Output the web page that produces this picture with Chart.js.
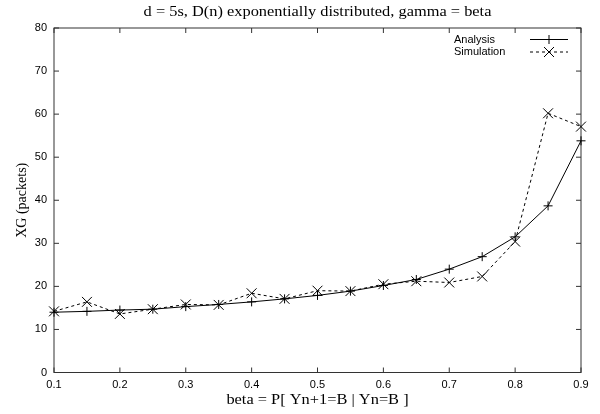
<!DOCTYPE html>
<html>
<head>
<meta charset="utf-8">
<script src="https://cdn.jsdelivr.net/npm/chart.js@4.4.0/dist/chart.umd.min.js"></script>
<style>
  html, body { margin: 0; padding: 0; background: #fff; }
  #wrap { width: 600px; height: 414px; }
</style>
</head>
<body>
<div id="wrap"><canvas id="xgChart" width="600" height="414"></canvas></div>
<script>
// beta = P[Yn+1=B | Yn=B] sample points
const betaValues   = [0.1, 0.15, 0.2, 0.25, 0.3, 0.35, 0.4, 0.45, 0.5, 0.55, 0.6, 0.65, 0.7, 0.75, 0.8, 0.85, 0.9];
const analysisXG   = [14.0, 14.2, 14.5, 14.7, 15.3, 15.8, 16.4, 17.1, 17.9, 18.9, 20.2, 21.6, 24.0, 26.9, 31.5, 38.7, 53.8];
const simulationXG = [14.2, 16.4, 13.6, 14.7, 15.8, 15.7, 18.4, 17.1, 19.0, 18.9, 20.5, 21.2, 20.9, 22.3, 30.4, 60.2, 57.1];
const xTickValues  = [0.1, 0.2, 0.3, 0.4, 0.5, 0.6, 0.7, 0.8, 0.9];
const yTickValues  = [0, 10, 20, 30, 40, 50, 60, 70, 80];
const seriesNames  = ['Analysis', 'Simulation'];
const plotTitle    = 'd = 5s, D(n) exponentially distributed, gamma = beta';
const xAxisLabel   = 'beta = P[ Yn+1=B | Yn=B ]';
const yAxisLabel   = 'XG (packets)';

const SANS = "'Liberation Sans', Arial, sans-serif";
const SERIF = "'Liberation Serif', 'Times New Roman', serif";
const INK = '#000';
const FRAME = '#333';
const WIDEN = 1.17; // serif captions are set a little wide

const toPoints = ys => betaValues.map((b, i) => ({ x: b, y: ys[i] }));

function wideText(ctx, text, cx, cy) {
  ctx.save();
  ctx.translate(cx, cy);
  ctx.scale(WIDEN, 1);
  ctx.fillText(text, 0, 0);
  ctx.restore();
}

// gnuplot-style box with inward ticks on all four sides, plus centred captions
const framePlugin = {
  id: 'frame',
  beforeDatasetsDraw(chart) {
    const { ctx, chartArea: a, scales: { x, y } } = chart;
    const tl = 5;
    ctx.save();
    ctx.strokeStyle = FRAME;
    ctx.lineWidth = 1;
    ctx.strokeRect(a.left, a.top, a.right - a.left, a.bottom - a.top);
    ctx.beginPath();
    xTickValues.forEach(v => {
      const px = x.getPixelForValue(v);
      ctx.moveTo(px, a.bottom); ctx.lineTo(px, a.bottom - tl);
      ctx.moveTo(px, a.top);    ctx.lineTo(px, a.top + tl);
    });
    yTickValues.forEach(v => {
      const py = y.getPixelForValue(v);
      ctx.moveTo(a.left, py);  ctx.lineTo(a.left + tl, py);
      ctx.moveTo(a.right, py); ctx.lineTo(a.right - tl, py);
    });
    ctx.stroke();

    const mid = (a.left + a.right) / 2;
    ctx.fillStyle = INK;
    ctx.font = '14px ' + SERIF;
    ctx.textAlign = 'center';
    ctx.textBaseline = 'middle';
    wideText(ctx, plotTitle, mid, 12);
    wideText(ctx, xAxisLabel, mid, 400);
    ctx.restore();
  }
};

// key in the top-right corner: label, then line sample with marker
const keyPlugin = {
  id: 'key',
  afterDraw(chart) {
    const { ctx } = chart;
    const rows = [
      { y: 39.5, dash: [], marker: 'plus' },
      { y: 52, dash: [3, 3], marker: 'x' }
    ];
    ctx.save();
    ctx.font = '11px ' + SANS;
    ctx.fillStyle = INK;
    ctx.strokeStyle = INK;
    ctx.lineWidth = 1;
    ctx.textAlign = 'left';
    ctx.textBaseline = 'middle';
    rows.forEach((r, i) => {
      ctx.fillText(seriesNames[i], 454, r.y);
      ctx.setLineDash(r.dash);
      ctx.beginPath();
      ctx.moveTo(530, r.y); ctx.lineTo(568, r.y);
      ctx.stroke();
      ctx.setLineDash([]);
      ctx.beginPath();
      if (r.marker === 'plus') {
        ctx.moveTo(549 - 4.5, r.y); ctx.lineTo(549 + 4.5, r.y);
        ctx.moveTo(549, r.y - 4.5); ctx.lineTo(549, r.y + 4.5);
      } else {
        ctx.moveTo(544, r.y - 5); ctx.lineTo(554, r.y + 5);
        ctx.moveTo(544, r.y + 5); ctx.lineTo(554, r.y - 5);
      }
      ctx.stroke();
    });
    ctx.restore();
  }
};

new Chart(document.getElementById('xgChart'), {
  type: 'line',
  data: {
    datasets: [
      {
        label: seriesNames[0],
        data: toPoints(analysisXG),
        borderColor: INK,
        borderWidth: 1,
        pointStyle: 'cross',
        pointRadius: 4.5,
        pointBorderColor: INK,
        pointBorderWidth: 1,
        tension: 0,
        fill: false,
        clip: false
      },
      {
        label: seriesNames[1],
        data: toPoints(simulationXG),
        borderColor: INK,
        borderWidth: 1,
        borderDash: [3, 3],
        pointStyle: 'crossRot',
        pointRadius: 7,
        pointBorderColor: INK,
        pointBorderWidth: 1,
        tension: 0,
        fill: false,
        clip: false
      }
    ]
  },
  options: {
    responsive: false,
    animation: false,
    events: [],
    layout: { padding: { left: 0, right: 19, top: 28, bottom: 0 } },
    plugins: {
      legend: { display: false },
      tooltip: { enabled: false },
      title: { display: false }
    },
    scales: {
      x: {
        type: 'linear',
        min: 0.1,
        max: 0.9,
        afterBuildTicks: s => { s.ticks = xTickValues.map(v => ({ value: v })); },
        afterFit: s => { s.height = 41.5; },
        grid: { display: false, drawTicks: false },
        border: { display: false },
        ticks: {
          color: INK,
          font: { family: SANS, size: 11 },
          padding: 6,
          maxRotation: 0,
          autoSkip: false,
          callback: v => v.toFixed(1)
        },
        title: { display: false }
      },
      y: {
        min: 0,
        max: 80,
        afterBuildTicks: s => { s.ticks = yTickValues.map(v => ({ value: v })); },
        afterFit: s => { s.width = 54; },
        grid: { display: false, drawTicks: false },
        border: { display: false },
        ticks: {
          color: INK,
          font: { family: SANS, size: 11 },
          padding: 7,
          autoSkip: false,
          callback: v => String(v)
        },
        title: {
          display: true,
          text: yAxisLabel,
          color: INK,
          font: { family: SERIF, size: 14 },
          padding: { top: 14, bottom: 0 }
        }
      }
    }
  },
  plugins: [framePlugin, keyPlugin]
});
</script>
</body>
</html>
